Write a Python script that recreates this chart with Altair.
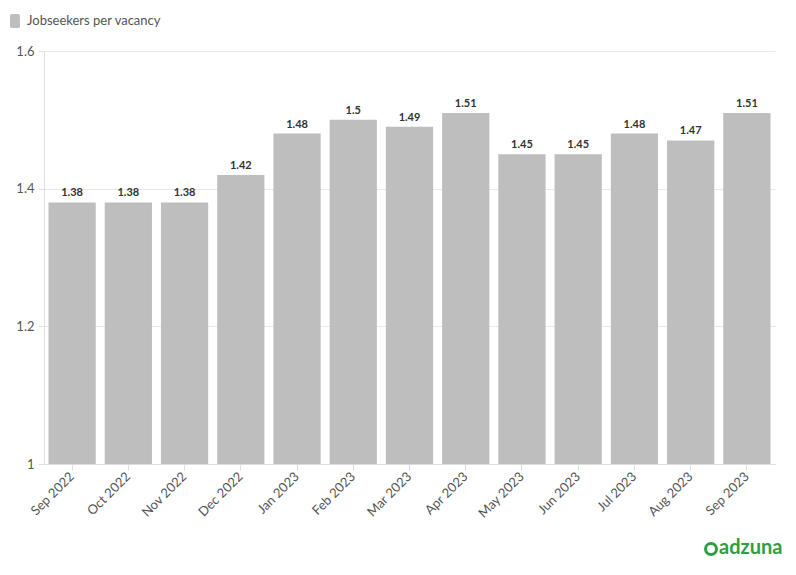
import altair as alt
import pandas as pd

months = ["Sep 2022", "Oct 2022", "Nov 2022", "Dec 2022", "Jan 2023", "Feb 2023",
          "Mar 2023", "Apr 2023", "May 2023", "Jun 2023", "Jul 2023", "Aug 2023", "Sep 2023"]
values = [1.38, 1.38, 1.38, 1.42, 1.48, 1.5, 1.49, 1.51, 1.45, 1.45, 1.48, 1.47, 1.51]
series_name = "Jobseekers per vacancy"
y_ticks = [1, 1.2, 1.4, 1.6]

df = pd.DataFrame({"month": months, "value": values, "series": series_name})

FONT = "Lato"
GREY = "#bebebe"
ROUNDED = ("M -0.45 -1 L 0.45 -1 Q 0.71 -1 0.71 -0.74 L 0.71 0.74 Q 0.71 1 0.45 1 "
           "L -0.45 1 Q -0.71 1 -0.71 0.74 L -0.71 -0.74 Q -0.71 -1 -0.45 -1 Z")

x = alt.X("month:N", sort=months, title=None,
          scale=alt.Scale(paddingInner=0.16, paddingOuter=0.08),
          axis=alt.Axis(labelAngle=-45, labelAlign="right", labelBaseline="middle",
                        labelFontSize=13, labelColor="#555555", labelFont=FONT,
                        tickColor="#dddddd", domainColor="#dddddd", tickSize=6,
                        labelPadding=4, grid=False))
y = alt.Y("value:Q", title=None,
          scale=alt.Scale(domain=[1, 1.6], zero=False, nice=False),
          axis=alt.Axis(values=y_ticks, format="~g", labelFontSize=13,
                        labelColor="#555555", labelFont=FONT,
                        gridColor="#e8e8e8", domainColor="#e0e0e0",
                        tickColor="#e0e0e0", tickSize=6, labelPadding=4))

bars = alt.Chart(df).mark_bar(color=GREY).encode(
    x=x, y=y, y2=alt.datum(1),
    color=alt.Color("series:N", scale=alt.Scale(range=[GREY]),
                    legend=alt.Legend(title=None, orient="none", legendX=-36, legendY=-37,
                                      symbolType=ROUNDED, symbolSize=196,
                                      symbolStrokeWidth=0, labelFontSize=13,
                                      labelColor="#555555", labelFont=FONT,
                                      padding=0, labelOffset=5))
)

labels = alt.Chart(df).mark_text(dy=-9, fontSize=11, fontWeight="bold",
                                 color="#333333", font=FONT).encode(
    x=alt.X("month:N", sort=months), y="value:Q", text=alt.Text("value:Q", format="~g")
)

logo_df = pd.DataFrame({"brand": ["adzuna"]})
logo_text = alt.Chart(logo_df).mark_text(fontSize=20, fontWeight="bold", color="#2e9e44",
                                         font=FONT, align="left", baseline="middle").encode(
    text="brand:N", x=alt.value(675), y=alt.value(497)
)
logo_ring = alt.Chart(logo_df).mark_point(shape="circle", size=120, strokeWidth=3,
                                          color="#2e9e44", filled=False, opacity=1).encode(
    x=alt.value(667), y=alt.value(498)
)

chart = alt.layer(bars, labels, logo_text, logo_ring).properties(
    width=731, height=413,
    autosize=alt.AutoSizeParams(type="none"),
    padding={"left": 36, "top": 43, "right": 13, "bottom": 100}
).configure(font=FONT).configure_view(stroke="transparent", strokeWidth=0)

chart.save("out.html", embed_options={"renderer": "svg", "actions": False})
